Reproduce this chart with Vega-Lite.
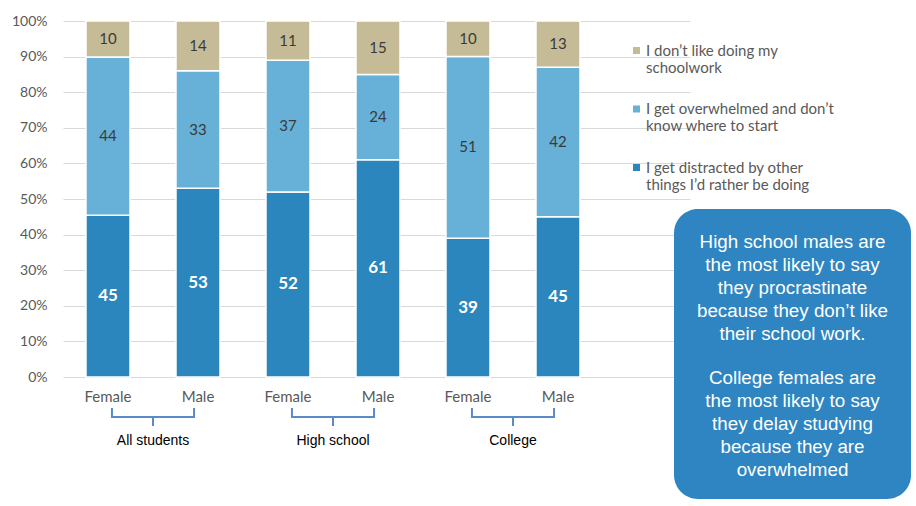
{
  "$schema": "https://vega.github.io/schema/vega-lite/v6.json",
  "autosize": {"type": "none"},
  "width": 627,
  "height": 356,
  "padding": {"left": 63, "top": 21, "right": 226, "bottom": 129},
  "background": "white",
  "config": {"view": {"stroke": null}, "font": "Lato"},
  "datasets": {
    "bars": [
      {"group": "All students", "key": "All students|Female", "reason": "I get distracted by other things I’d rather be doing", "rank": 1, "value": 45},
      {"group": "All students", "key": "All students|Female", "reason": "I get overwhelmed and don’t know where to start", "rank": 2, "value": 44},
      {"group": "All students", "key": "All students|Female", "reason": "I don’t like doing my schoolwork", "rank": 3, "value": 10},
      {"group": "All students", "key": "All students|Male", "reason": "I get distracted by other things I’d rather be doing", "rank": 1, "value": 53},
      {"group": "All students", "key": "All students|Male", "reason": "I get overwhelmed and don’t know where to start", "rank": 2, "value": 33},
      {"group": "All students", "key": "All students|Male", "reason": "I don’t like doing my schoolwork", "rank": 3, "value": 14},
      {"group": "High school", "key": "High school|Female", "reason": "I get distracted by other things I’d rather be doing", "rank": 1, "value": 52},
      {"group": "High school", "key": "High school|Female", "reason": "I get overwhelmed and don’t know where to start", "rank": 2, "value": 37},
      {"group": "High school", "key": "High school|Female", "reason": "I don’t like doing my schoolwork", "rank": 3, "value": 11},
      {"group": "High school", "key": "High school|Male", "reason": "I get distracted by other things I’d rather be doing", "rank": 1, "value": 61},
      {"group": "High school", "key": "High school|Male", "reason": "I get overwhelmed and don’t know where to start", "rank": 2, "value": 24},
      {"group": "High school", "key": "High school|Male", "reason": "I don’t like doing my schoolwork", "rank": 3, "value": 15},
      {"group": "College", "key": "College|Female", "reason": "I get distracted by other things I’d rather be doing", "rank": 1, "value": 39},
      {"group": "College", "key": "College|Female", "reason": "I get overwhelmed and don’t know where to start", "rank": 2, "value": 51},
      {"group": "College", "key": "College|Female", "reason": "I don’t like doing my schoolwork", "rank": 3, "value": 10},
      {"group": "College", "key": "College|Male", "reason": "I get distracted by other things I’d rather be doing", "rank": 1, "value": 45},
      {"group": "College", "key": "College|Male", "reason": "I get overwhelmed and don’t know where to start", "rank": 2, "value": 42},
      {"group": "College", "key": "College|Male", "reason": "I don’t like doing my schoolwork", "rank": 3, "value": 13}
    ],
    "groups": [
      {"group": "All students"},
      {"group": "High school"},
      {"group": "College"}
    ],
    "note": [
      {"part": 1, "note": "High school males are\nthe most likely to say\nthey procrastinate\nbecause they don’t like\ntheir school work."},
      {"part": 2, "note": "College females are\nthe most likely to say\nthey delay studying\nbecause they are\noverwhelmed"}
    ]
  },
  "layer": [
    {
      "data": {"name": "bars"},
      "encoding": {
        "x": {
          "field": "key", "type": "nominal", "sort": null,
          "scale": {"paddingInner": 0.5111, "paddingOuter": 0.7389, "align": 0.1729},
          "axis": {
            "title": null, "domain": false, "ticks": false, "grid": false,
            "labelAngle": 0, "labelExpr": "split(datum.value, '|')[1]",
            "labelFont": "Lato", "labelFontSize": 15, "labelColor": "#595959", "labelPadding": 12
          }
        },
        "y": {
          "field": "value", "type": "quantitative", "stack": "normalize",
          "scale": {"domain": [0, 1], "nice": false},
          "axis": {
            "title": null, "format": "%", "values": [0, 0.1, 0.2, 0.3, 0.4, 0.5, 0.6, 0.7, 0.8, 0.9, 1],
            "domain": false, "ticks": false, "grid": true, "gridColor": "#d9d9d9", "gridWidth": 1,
            "labelFont": "Lato", "labelFontSize": 14, "labelColor": "#595959", "labelPadding": 16
          }
        },
        "order": {"field": "rank", "type": "quantitative"}
      },
      "layer": [
        {
          "mark": {"type": "bar", "stroke": "white", "strokeWidth": 1.5},
          "encoding": {
            "color": {
              "field": "reason", "type": "nominal",
              "scale": {
                "domain": ["I don’t like doing my schoolwork", "I get overwhelmed and don’t know where to start", "I get distracted by other things I’d rather be doing"],
                "range": ["#c5bc97", "#67b0d7", "#2b86bd"]
              },
              "legend": {
                "orient": "none", "legendX": 566, "legendY": 22, "title": null,
                "symbolType": "square", "symbolSize": 49, "symbolStrokeWidth": 0,
                "labelFont": "Lato", "labelFontSize": 15, "labelColor": "#595959",
                "labelLimit": 400, "rowPadding": 25.5, "labelOffset": 2,
                "labelExpr": "datum.label == 'I don’t like doing my schoolwork' ? ['I don’t like doing my', 'schoolwork'] : datum.label == 'I get overwhelmed and don’t know where to start' ? ['I get overwhelmed and don’t', 'know where to start'] : ['I get distracted by other', 'things I’d rather be doing']"
              }
            }
          }
        },
        {
          "mark": {"type": "text", "font": "Lato", "fontSize": 17, "fontWeight": "bold", "fill": "white", "baseline": "middle"},
          "encoding": {
            "y": {"field": "value", "type": "quantitative", "stack": "normalize", "bandPosition": 0.5},
            "detail": {"field": "reason", "type": "nominal"},
            "text": {"condition": {"test": "datum.rank == 1", "field": "value", "type": "quantitative"}, "value": ""}
          }
        },
        {
          "mark": {"type": "text", "font": "Lato", "fontSize": 15, "fill": "#3a3a3a", "baseline": "middle"},
          "encoding": {
            "y": {"field": "value", "type": "quantitative", "stack": "normalize", "bandPosition": 0.5},
            "detail": {"field": "reason", "type": "nominal"},
            "text": {"condition": {"test": "datum.rank != 1", "field": "value", "type": "quantitative"}, "value": ""}
          }
        }
      ]
    },
    {
      "data": {"name": "groups"},
      "encoding": {
        "x": {
          "field": "group", "type": "nominal", "sort": null,
          "scale": {"paddingInner": 0, "paddingOuter": 0.2417, "align": 0},
          "axis": null
        }
      },
      "layer": [
        {
          "mark": {"type": "bar", "width": {"band": 0.456}, "color": "#5a8bc6"},
          "encoding": {
            "y": {"datum": -0.1096, "type": "quantitative", "axis": null, "title": null},
            "y2": {"datum": -0.1152}
          }
        },
        {
          "mark": {"type": "rule", "color": "#5a8bc6", "strokeWidth": 2},
          "encoding": {
            "x": {"field": "group", "type": "nominal", "sort": null, "bandPosition": 0.272},
            "y": {"datum": -0.0871, "type": "quantitative", "axis": null, "title": null},
            "y2": {"datum": -0.1152}
          }
        },
        {
          "mark": {"type": "rule", "color": "#5a8bc6", "strokeWidth": 2},
          "encoding": {
            "x": {"field": "group", "type": "nominal", "sort": null, "bandPosition": 0.728},
            "y": {"datum": -0.0871, "type": "quantitative", "axis": null, "title": null},
            "y2": {"datum": -0.1152}
          }
        },
        {
          "mark": {"type": "rule", "color": "#5a8bc6", "strokeWidth": 2},
          "encoding": {
            "x": {"field": "group", "type": "nominal", "sort": null, "bandPosition": 0.5},
            "y": {"datum": -0.1124, "type": "quantitative", "axis": null, "title": null},
            "y2": {"datum": -0.1376}
          }
        },
        {
          "mark": {"type": "text", "font": "Liberation Sans", "fontSize": 14, "color": "black", "baseline": "middle"},
          "encoding": {
            "x": {"field": "group", "type": "nominal", "sort": null, "bandPosition": 0.5},
            "y": {"datum": -0.1798, "type": "quantitative", "axis": null, "title": null},
            "text": {"field": "group", "type": "nominal"}
          }
        }
      ]
    },
    {
      "data": {"name": "note"},
      "layer": [
        {
          "transform": [{"filter": "datum.part == 1"}],
          "mark": {"type": "rect", "color": "#2e85c1", "cornerRadius": 24},
          "encoding": {
            "x": {"datum": 0.9745, "type": "quantitative", "scale": {"domain": [0, 1], "nice": false, "zero": false}, "axis": null},
            "x2": {"datum": 1.3525},
            "y": {"datum": 0.4719, "type": "quantitative", "axis": null, "title": null},
            "y2": {"datum": -0.3427}
          }
        },
        {
          "transform": [{"filter": "datum.part == 1"}],
          "mark": {"type": "text", "font": "Liberation Sans", "fontSize": 18.8, "color": "white", "align": "center", "baseline": "top", "lineBreak": "\n", "lineHeight": 23},
          "encoding": {
            "x": {"datum": 1.1635, "type": "quantitative", "axis": null},
            "y": {"datum": 0.4045, "type": "quantitative", "axis": null, "title": null},
            "text": {"field": "note", "type": "nominal"}
          }
        },
        {
          "transform": [{"filter": "datum.part == 2"}],
          "mark": {"type": "text", "font": "Liberation Sans", "fontSize": 18.8, "color": "white", "align": "center", "baseline": "top", "lineBreak": "\n", "lineHeight": 23},
          "encoding": {
            "x": {"datum": 1.1635, "type": "quantitative", "axis": null},
            "y": {"datum": 0.0225, "type": "quantitative", "axis": null, "title": null},
            "text": {"field": "note", "type": "nominal"}
          }
        }
      ]
    }
  ],
  "resolve": {"scale": {"x": "independent"}, "axis": {"y": "independent"}}
}
